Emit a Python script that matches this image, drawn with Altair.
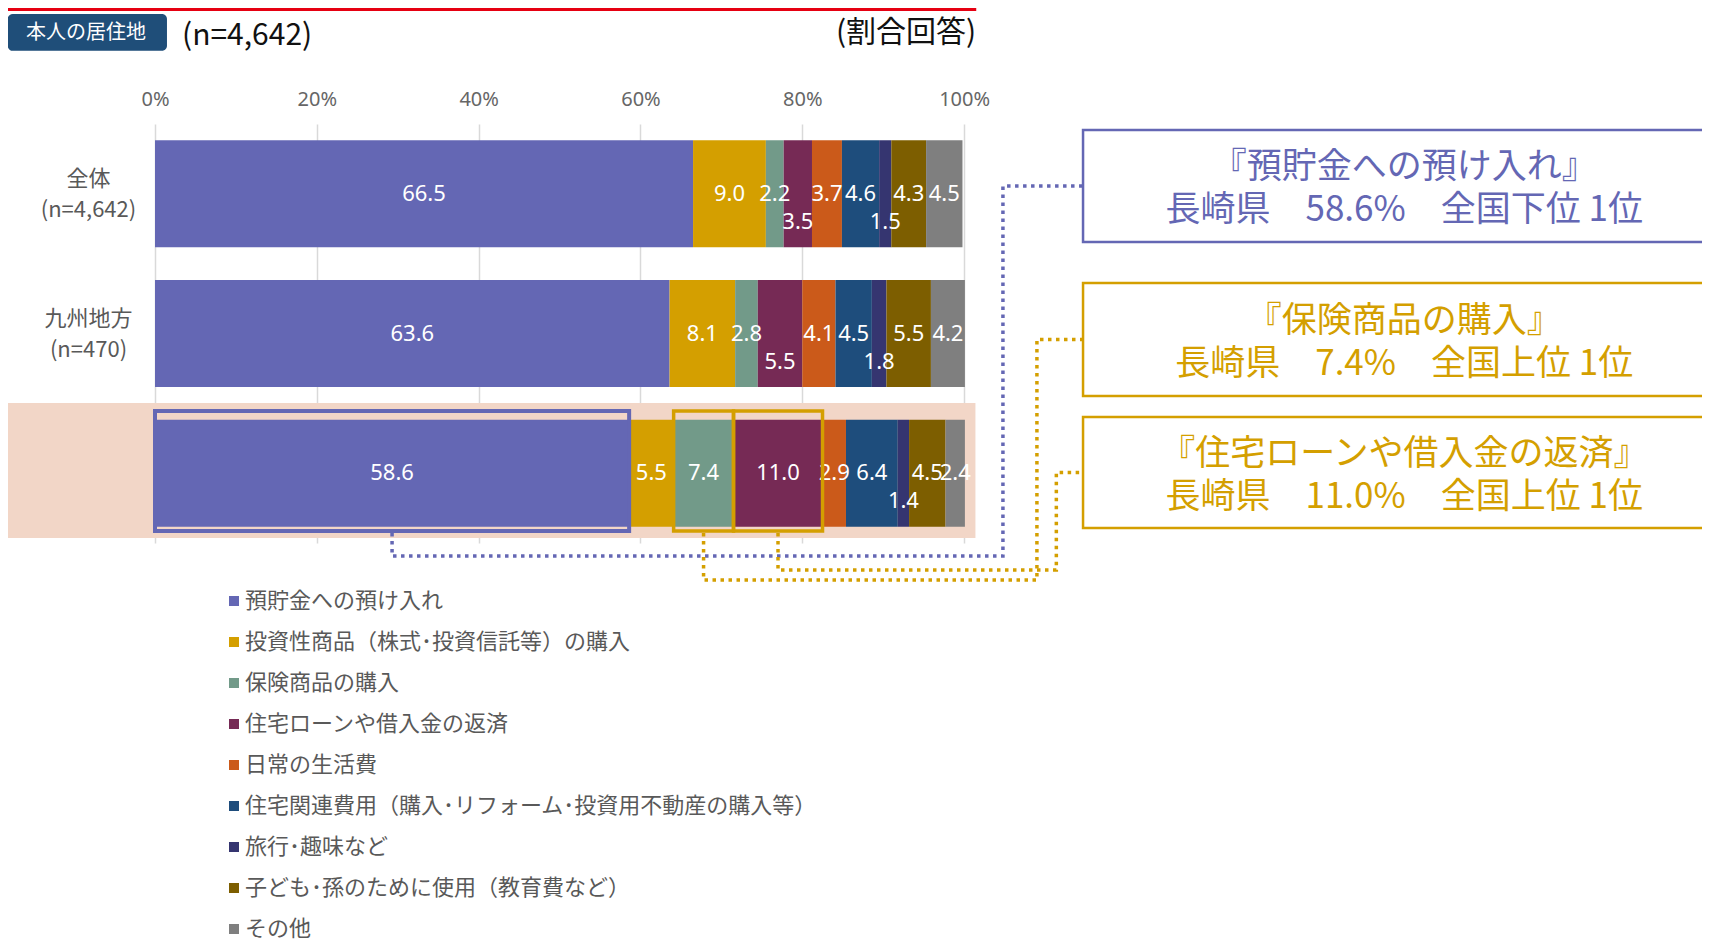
import altair as alt
import pandas as pd

# ---------------- data ----------------
CATEGORIES = ["全体", "九州地方", "長崎県"]
SAMPLE_SIZES = ["(n=4,642)", "(n=470)", "(n=47)"]
SERIES = [
    "預貯金への預け入れ",
    "投資性商品（株式･投資信託等）の購入",
    "保険商品の購入",
    "住宅ローンや借入金の返済",
    "日常の生活費",
    "住宅関連費用（購入･リフォーム･投資用不動産の購入等）",
    "旅行･趣味など",
    "子ども･孫のために使用（教育費など）",
    "その他",
]
COLORS = ["#6467b4", "#d49f00", "#729a89", "#762a55", "#cb5a1a",
          "#1e4d7c", "#353570", "#7d5e00", "#7f7f7f"]
VALUES_ZENTAI = [66.5, 9.0, 2.2, 3.5, 3.7, 4.6, 1.5, 4.3, 4.5]
VALUES_KYUSHU = [63.6, 8.1, 2.8, 5.5, 4.1, 4.5, 1.8, 5.5, 4.2]
VALUES_NAGASAKI = [58.6, 5.5, 7.4, 11.0, 2.9, 6.4, 1.4, 4.5, 2.4]
LOWER_LABELS = [[3, 6], [3, 6], [6]]      # labels drawn on the lower line
TICKS = [0, 20, 40, 60, 80, 100]

HEADER_BADGE = "本人の居住地"
HEADER_N = "(n=4,642)"
HEADER_NOTE = "(割合回答)"

FOCUS = 2                                  # 長崎県
CALLOUT_SERIES = [0, 2, 3]
CALLOUT_RANKS = ["全国下位 1位", "全国上位 1位", "全国上位 1位"]
BLUE = "#6467b4"
GOLD = "#d49f00"
CALLOUT_COLORS = [BLUE, GOLD, GOLD]

JP = "Noto Sans CJK JP"
NUM = "Noto Sans"

# ---------------- layout (data units: x = percent, y = row index) ----------------
X_MAX = 191.2
BAR_HALF = 0.383
BOX_TOP, BOX_BOT = 0.445, 0.414
LEFT_EDGE = -18.2
BAND = dict(x=LEFT_EDGE, x2=101.4, y=1.497, y2=2.464)
CALLOUT_X, CALLOUT_X2, CALLOUT_TEXT_X = 114.7, 200.0, 154.4
CALLOUT_Y = [(-0.457, 0.345), (0.638, 1.447), (1.598, 2.393)]
CALLOUT_CENTER = [-0.056, 1.043, 1.996]
CALLOUT_LINE_GAP = 0.155
CONN_START_Y = 2.428
CONN_BOTTOM = [2.593, 2.765, 2.693]
CONN_VX = [104.8, 109.0, 111.4]

all_vals = [VALUES_ZENTAI, VALUES_KYUSHU, VALUES_NAGASAKI]
recs = []
for ci, vals in enumerate(all_vals):
    cum = 0.0
    for si, v in enumerate(vals):
        recs.append(dict(cat=CATEGORIES[ci], row=ci, series=SERIES[si], v=v,
                         x=cum, x2=cum + v, xm=cum + v / 2,
                         y=ci - BAR_HALF, y2=ci + BAR_HALF,
                         label=f"{v:.1f}", low=si in LOWER_LABELS[ci]))
        cum += v
df = pd.DataFrame(recs)

XS = alt.Scale(domain=[0, X_MAX], nice=False, zero=False)
YS = alt.Scale(domain=[-0.5, 2.5], nice=False, zero=False, reverse=True)
label_arr = "[" + ",".join(f"['{c}','{n}']" for c, n in zip(CATEGORIES, SAMPLE_SIZES)) + "]"
XAX = alt.Axis(orient="top", values=TICKS, labelExpr="datum.value + '%'", domain=False,
               ticks=False, tickSize=0, grid=True, gridColor="#d9d9d9", gridWidth=1.5,
               labelFont=NUM, labelFontSize=20, labelColor="#666666", labelPadding=15,
               labelFlush=False, title=None)
YAX = alt.Axis(values=[0, 1, 2], labelExpr=f"{label_arr}[datum.value]", domain=False,
               ticks=False, tickSize=0, grid=False, labelAlign="center", labelBaseline="middle",
               labelPadding=67, labelOffset=-15.5, labelFont=JP, labelFontSize=22,
               labelLineHeight=31, labelColor="#595959", labelOverlap=False, title=None)


def X(f):
    return alt.X(f, type="quantitative", scale=XS, axis=XAX, title=None)


def Y(f):
    return alt.Y(f, type="quantitative", scale=YS, axis=YAX, title=None)


# pink highlight band behind 長崎県
band = alt.Chart(pd.DataFrame([BAND])).mark_rect(color="#f2d6c7").encode(
    x=X("x"), x2="x2", y=Y("y"), y2="y2")

bars = alt.Chart(df).mark_rect().encode(
    x=X("x"), x2="x2", y=Y("y"), y2="y2",
    color=alt.Color("series:N", scale=alt.Scale(domain=SERIES, range=COLORS),
                    legend=alt.Legend(orient="none", legendX=68, legendY=466, title=None,
                                      symbolType="square", symbolSize=100, symbolStrokeWidth=0,
                                      labelFont=JP, labelFontSize=22, labelColor="#595959",
                                      rowPadding=19, labelOffset=0, labelLimit=1000, padding=0)))

lab_mid = alt.Chart(df[~df["low"]]).mark_text(color="white", font=NUM, fontSize=22).encode(
    x=X("xm"), y=Y("row"), text="label:N")
lab_low = alt.Chart(df[df["low"]]).mark_text(color="white", font=NUM, fontSize=22, dy=28).encode(
    x=X("xm"), y=Y("row"), text="label:N")

# highlight boxes on 長崎県 segments
foc = df[df["row"] == FOCUS].reset_index(drop=True)
hl = pd.DataFrame([dict(x=foc.loc[s, "x"], x2=foc.loc[s, "x2"], y=FOCUS - BOX_TOP, y2=FOCUS + BOX_BOT,
                        col=c, sw=4.0 if c == BLUE else 3.5)
                   for s, c in zip(CALLOUT_SERIES, CALLOUT_COLORS)])
hl_boxes = alt.Chart(hl).mark_rect(fillOpacity=0).encode(
    x=X("x"), x2="x2", y=Y("y"), y2="y2",
    stroke=alt.Stroke("col:N", scale=None), strokeWidth=alt.StrokeWidth("sw:Q", scale=None))

# dotted connectors
conn = []
for k, s in enumerate(CALLOUT_SERIES):
    xm = foc.loc[s, "xm"]
    pts = [(xm, CONN_START_Y), (xm, CONN_BOTTOM[k]), (CONN_VX[k], CONN_BOTTOM[k]),
           (CONN_VX[k], CALLOUT_CENTER[k]), (CALLOUT_X, CALLOUT_CENTER[k])]
    for i, (px, py) in enumerate(pts):
        conn.append(dict(path=k, i=i, x=px, y=py, col=CALLOUT_COLORS[k]))
connectors = alt.Chart(pd.DataFrame(conn)).mark_line(
    strokeWidth=3.5, strokeDash=[3.5, 4.5], strokeCap="butt").encode(
    x=X("x"), y=Y("y"), order="i:Q", detail="path:N", stroke=alt.Stroke("col:N", scale=None))

# callout boxes and texts
co = pd.DataFrame([dict(x=CALLOUT_X, x2=CALLOUT_X2, y=CALLOUT_Y[k][0], y2=CALLOUT_Y[k][1],
                        xt=CALLOUT_TEXT_X,
                        y1=CALLOUT_CENTER[k] - CALLOUT_LINE_GAP + 0.02,
                        y2t=CALLOUT_CENTER[k] + CALLOUT_LINE_GAP + 0.02,
                        col=CALLOUT_COLORS[k],
                        t1=f"『{SERIES[s]}』",
                        t2=f"{CATEGORIES[FOCUS]}　{all_vals[FOCUS][s]:.1f}%　{CALLOUT_RANKS[k]}")
                   for k, s in enumerate(CALLOUT_SERIES)])
co_boxes = alt.Chart(co).mark_rect(fill="white", strokeWidth=2.5).encode(
    x=X("x"), x2="x2", y=Y("y"), y2="y2", stroke=alt.Stroke("col:N", scale=None))
co_t1 = alt.Chart(co).mark_text(font=JP, fontSize=35, align="center", baseline="middle").encode(
    x=X("xt"), y=Y("y1"), text="t1:N", fill=alt.Fill("col:N", scale=None))
co_t2 = alt.Chart(co).mark_text(font=JP, fontSize=35, align="center", baseline="middle").encode(
    x=X("xt"), y=Y("y2t"), text="t2:N", fill=alt.Fill("col:N", scale=None))

# header
red = alt.Chart(pd.DataFrame([dict(x=LEFT_EDGE, x2=101.5, y=-1.320)])).mark_rule(
    color="#e60012", strokeWidth=3).encode(x=X("x"), x2="x2", y=Y("y"))
badge = alt.Chart(pd.DataFrame([dict(x=LEFT_EDGE, x2=1.48, y=-1.288, y2=-1.024)])).mark_rect(
    color="#1f4e79", cornerRadius=5).encode(x=X("x"), x2="x2", y=Y("y"), y2="y2")
badge_t = alt.Chart(pd.DataFrame([dict(x=-8.53, y=-1.150, t=HEADER_BADGE)])).mark_text(
    color="white", font=JP, fontSize=20).encode(x=X("x"), y=Y("y"), text="t:N")
n_t = alt.Chart(pd.DataFrame([dict(x=3.34, y=-1.128, t=HEADER_N)])).mark_text(
    color="#111111", font=JP, fontSize=30, align="left").encode(x=X("x"), y=Y("y"), text="t:N")
note_t = alt.Chart(pd.DataFrame([dict(x=101.5, y=-1.148, t=HEADER_NOTE)])).mark_text(
    color="#111111", font=JP, fontSize=30, align="right").encode(x=X("x"), y=Y("y"), text="t:N")

chart = alt.layer(band, bars, lab_mid, lab_low, hl_boxes, connectors, co_boxes, co_t1, co_t2,
                  red, badge, badge_t, n_t, note_t).properties(
    width=1547, height=419,
    autosize=alt.AutoSizeParams(type="none"),
    padding={"left": 147, "top": 116, "right": 0, "bottom": 400},
    background="white",
).configure_view(stroke=None)

chart.save("out.html", embed_options={"renderer": "svg", "actions": False})
